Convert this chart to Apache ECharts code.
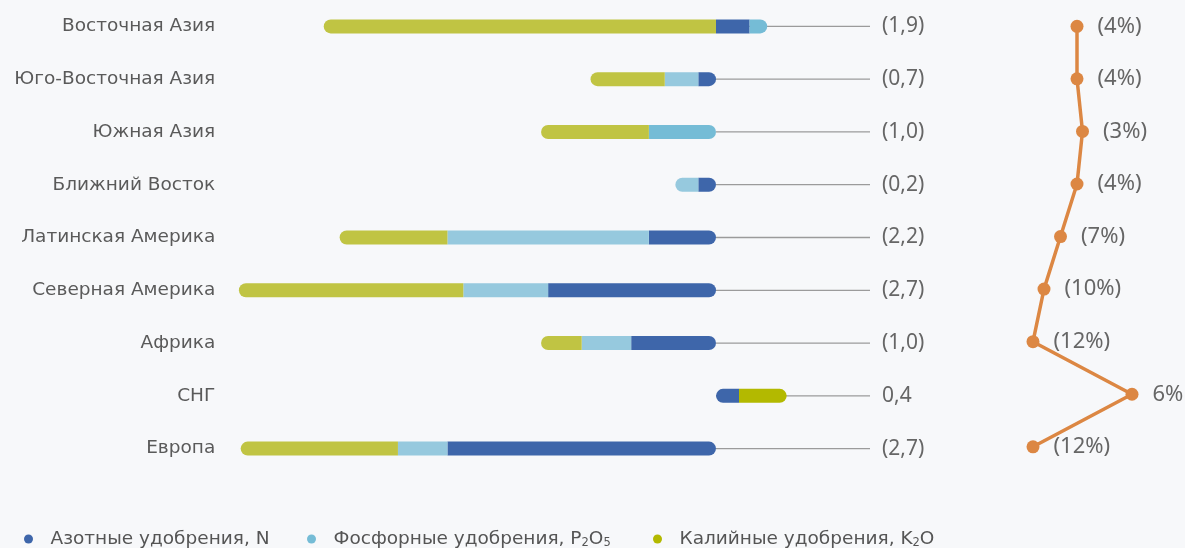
<!DOCTYPE html>
<html><head><meta charset="utf-8">
<script src="https://cdn.jsdelivr.net/npm/echarts@6/dist/echarts.min.js"></script>
<style>html,body{margin:0;padding:0;background:#f7f8fa}#c{width:1185px;height:548px}</style>
</head><body><div id="c"></div>
<script>
const categories = ['Восточная Азия','Юго-Восточная Азия','Южная Азия','Ближний Восток','Латинская Америка','Северная Америка','Африка','СНГ','Европа'];
const nitrogen  = [0.19, -0.10, 0, -0.10, -0.38, -0.95, -0.48, 0.13, -1.52];
const phosphate = [0.10, -0.19, -0.38, -0.13, -1.14, -0.48, -0.28, 0, -0.28];
const potash    = [-2.22, -0.42, -0.61, 0, -0.61, -1.27, -0.23, 0.27, -0.89];
const totalLabels = ['(1,9)','(0,7)','(1,0)','(0,2)','(2,2)','(2,7)','(1,0)','0,4','(2,7)'];
const changePct = [-4, -4, -3, -4, -7, -10, -12, 6, -12];
const changeLabels = ['(4%)','(4%)','(3%)','(4%)','(7%)','(10%)','(12%)','6%','(12%)'];
const seriesNames = ['Азотные удобрения, N','Фосфорные удобрения, P2O5','Калийные удобрения, K2O'];

// styles
const FONT = '"Noto Sans", sans-serif';
const LFONT = '"DejaVu Sans", sans-serif';
const legendColors = ['#3e66aa', '#75bcd6', '#b3b900'];
const rowColors = [
  categories.map(() => '#3e66aa'),
  ['#75bcd6','#96c9de','#75bcd6','#96c9de','#96c9de','#96c9de','#96c9de','#96c9de','#96c9de'],
  ['#c0c443','#c0c443','#c0c443','#c0c443','#c0c443','#c0c443','#c0c443','#b3b900','#c0c443']
];
const R = 7;
const LINE_END = 0.8715;
const all = [nitrogen, phosphate, potash];

function radius(s, i) {
  const vals = all.map(a => a[i]);
  const neg = [], pos = [];
  vals.forEach((v, k) => { if (v < 0) neg.push(k); else if (v > 0) pos.push(k); });
  const left = neg.length ? neg[neg.length - 1] : pos[0];
  const right = pos.length ? pos[pos.length - 1] : neg[0];
  const r = [0, 0, 0, 0];
  if (s === left) { r[0] = R; r[3] = R; }
  if (s === right) { r[1] = R; r[2] = R; }
  return r;
}

const barSeries = all.map((arr, s) => ({
  type: 'bar',
  name: seriesNames[s],
  stack: 'total',
  barWidth: 14,
  xAxisIndex: 0, yAxisIndex: 0,
  z: 3,
  itemStyle: { color: legendColors[s] },
  data: arr.map((v, i) => v === 0 ? '-' : ({
    value: v,
    itemStyle: { color: rowColors[s][i], borderRadius: radius(s, i) }
  }))
}));

const chart = echarts.init(document.getElementById('c'));
const legendBase = {
  top: 529, padding: 0, icon: 'circle', itemWidth: 34, itemHeight: 9,
  textStyle: {
    fontSize: 18.5, color: '#555', fontFamily: LFONT, lineHeight: 20,
    rich: { s: { fontSize: 11.5, color: '#555', fontFamily: LFONT, padding: [8, 0, 0, 0] } }
  },
  formatter: n => n.replace('P2O5', 'P{s|2}O{s|5}').replace('K2O', 'K{s|2}O')
};
chart.setOption({
  backgroundColor: '#f7f8fa',
  animation: false,
  legend: [
    Object.assign({}, legendBase, { left: 24, data: [seriesNames[0]] }),
    Object.assign({}, legendBase, { left: 307, data: [seriesNames[1]] }),
    Object.assign({}, legendBase, { left: 653, data: [seriesNames[2]] })
  ],
  grid: [
    { left: 221.24, width: 671.46, top: -3, height: 478 },
    { left: 1022, width: 121, top: -1.7, height: 474.8 }
  ],
  xAxis: [
    { type: 'value', gridIndex: 0, min: -2.8, max: 1.0, show: false },
    { type: 'value', gridIndex: 1, min: -14, max: 8, show: false }
  ],
  yAxis: [
    { type: 'category', gridIndex: 0, data: categories, inverse: true,
      axisLine: { show: false }, axisTick: { show: false },
      axisLabel: { margin: 6, fontSize: 18.5, color: '#5a5a5a', fontFamily: LFONT } },
    { type: 'category', gridIndex: 1, data: categories, inverse: true, show: false }
  ],
  series: barSeries.concat([
    {
      type: 'custom', xAxisIndex: 0, yAxisIndex: 0, z: 1, silent: true,
      data: categories.map((c, i) => [0, i]),
      encode: { x: 0, y: 1 },
      renderItem: (params, api) => {
        const i = params.dataIndex;
        const p0 = api.coord([0, i]);
        const p1 = api.coord([LINE_END, i]);
        return { type: 'group', children: [
          { type: 'line', shape: { x1: p0[0], y1: p0[1], x2: p1[0], y2: p1[1] },
            style: { stroke: '#9b9b9b', lineWidth: 1.3 } },
          { type: 'text', x: p1[0] + 12, y: p1[1],
            style: { text: totalLabels[i], fill: '#666', font: '21px ' + FONT, verticalAlign: 'middle', align: 'left' } }
        ]};
      }
    },
    {
      type: 'line', xAxisIndex: 1, yAxisIndex: 1, z: 4,
      data: changePct,
      symbol: 'circle', symbolSize: 13,
      itemStyle: { color: '#dc8743' },
      lineStyle: { color: '#dc8743', width: 3.5 },
      label: { show: true, position: 'right', distance: 14, fontSize: 22, color: '#666', fontFamily: FONT,
        formatter: p => changeLabels[p.dataIndex] }
    }
  ])
});
</script>
</body></html>
